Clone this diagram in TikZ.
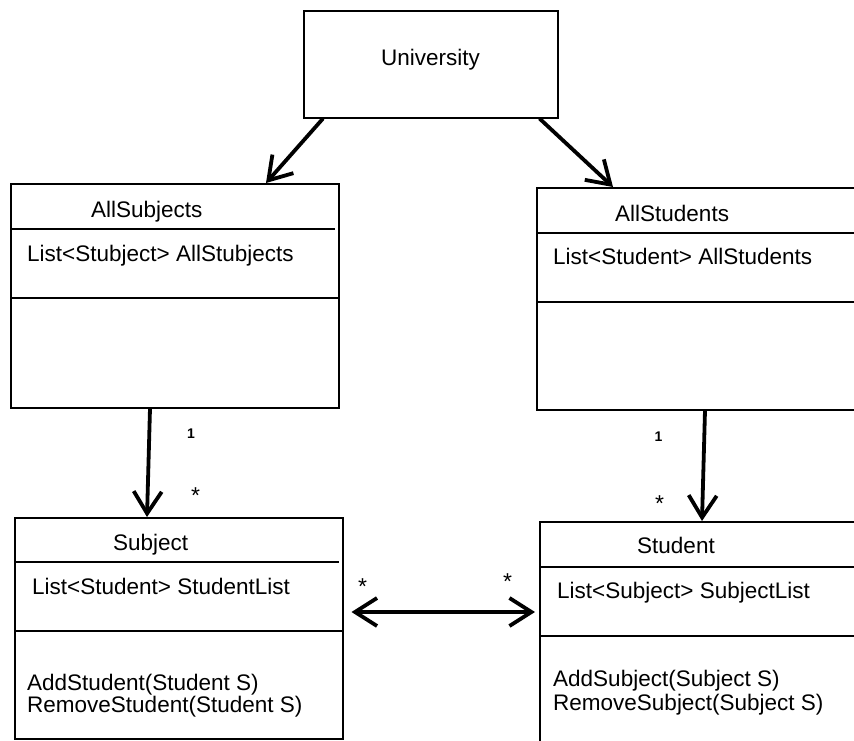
\documentclass[tikz,border=0pt]{standalone}
\usepackage{fontspec}
\setmainfont{Liberation Sans}
\usetikzlibrary{arrows.meta,calc}
\begin{document}
\begin{tikzpicture}[x=1pt,y=-1pt,
 box/.style={draw,line width=1.5pt,rectangle,inner sep=0pt,anchor=north west},
 txt/.style={anchor=base west,inner sep=0pt,font=\fontsize{22.5}{27}\selectfont},
 conn/.style={line width=3.8pt,-{Straight Barb[length=22pt,width=28pt]}},
 dconn/.style={line width=3.8pt,{Straight Barb[length=22pt,width=28pt]}-{Straight Barb[length=22pt,width=28pt]}},
 mult/.style={anchor=north,inner sep=0pt,font=\fontsize{23}{27}\selectfont},
 one/.style={anchor=north,inner sep=0pt,font=\bfseries\fontsize{14}{16}\selectfont},
 sepline/.style={line width=1.5pt}]
\useasboundingbox (0,0) rectangle (854,740);
\clip (0,0) rectangle (854,740);
\fill[white] (0,0) rectangle (854,740);

% boxes
\node[box,minimum width=254pt,minimum height=107pt] (univ) at (303,10) {};
\node[box,minimum width=328pt,minimum height=224pt] (allsub) at (10,183) {};
\node[box,minimum width=324pt,minimum height=222pt] (allstu) at (536,187) {};
\node[box,minimum width=328pt,minimum height=221pt] (subj) at (14,517) {};
\node[box,minimum width=321pt,minimum height=226pt] (stud) at (539,521) {};

% separators
\draw[sepline] ($(allsub.north west)+(2,46)$) -- ($(allsub.north east)+(-5,46)$);
\draw[sepline] ($(allsub.north west)+(0,115)$) -- ($(allsub.north east)+(0,115)$);
\draw[sepline] ($(allstu.north west)+(0,46)$) -- ($(allstu.north east)+(0,46)$);
\draw[sepline] ($(allstu.north west)+(0,115)$) -- ($(allstu.north east)+(0,115)$);
\draw[sepline] ($(subj.north west)+(0,45)$) -- ($(subj.north east)+(-5,45)$);
\draw[sepline] ($(subj.north west)+(0,114)$) -- ($(subj.north east)+(0,114)$);
\draw[sepline] ($(stud.north west)+(0,46)$) -- ($(stud.north east)+(0,46)$);
\draw[sepline] ($(stud.north west)+(0,115)$) -- ($(stud.north east)+(0,115)$);

% texts
\node[txt] (tuniv) at (381,65) {University};
\node[txt] (tallsub) at (91,217) {AllSubjects};
\node[txt] (tallsuba) at (27,261) {List<Stubject> AllStubjects};
\node[txt] (tallstu) at (615,221) {AllStudents};
\node[txt] (tallstua) at (553,264) {List<Student> AllStudents};
\node[txt] (tsubj) at (113,550) {Subject};
\node[txt] (tsubja) at (32,594) {List<Student> StudentList};
\node[txt] (tsubjm1) at (27,690) {AddStudent(Student S)};
\node[txt] (tsubjm2) at (27,712) {RemoveStudent(Student S)};
\node[txt] (tstud) at (637,553) {Student};
\node[txt] (tstuda) at (557,598) {List<Subject> SubjectList};
\node[txt] (tstudm1) at (553,686) {AddSubject(Subject S)};
\node[txt] (tstudm2) at (553,710) {RemoveSubject(Subject S)};

% connectors
\draw[conn] ($(univ.south west)+(20,0)$) -- ($(allsub.north west)+(256,0)$);
\draw[conn] ($(univ.south east)+(-19,0)$) -- ($(allstu.north west)+(77,0)$);
\draw[conn] ($(allsub.south west)+(140,0)$) -- ($(subj.north west)+(133,0)$);
\draw[conn] ($(allstu.south west)+(169,0)$) -- ($(stud.north west)+(163,0)$);
\draw[dconn] ($(subj.north east)+(8,95)$) -- ($(stud.north west)+(-4,91)$);

% multiplicities
\node[one] (m1) at (191,429) {1};
\node[mult] (m2) at (195.5,487) {*};
\node[one] (m3) at (658.5,432) {1};
\node[mult] (m4) at (659.5,495) {*};
\node[mult] (m5) at (362.5,578) {*};
\node[mult] (m6) at (507.5,573) {*};
\end{tikzpicture}
\end{document}
